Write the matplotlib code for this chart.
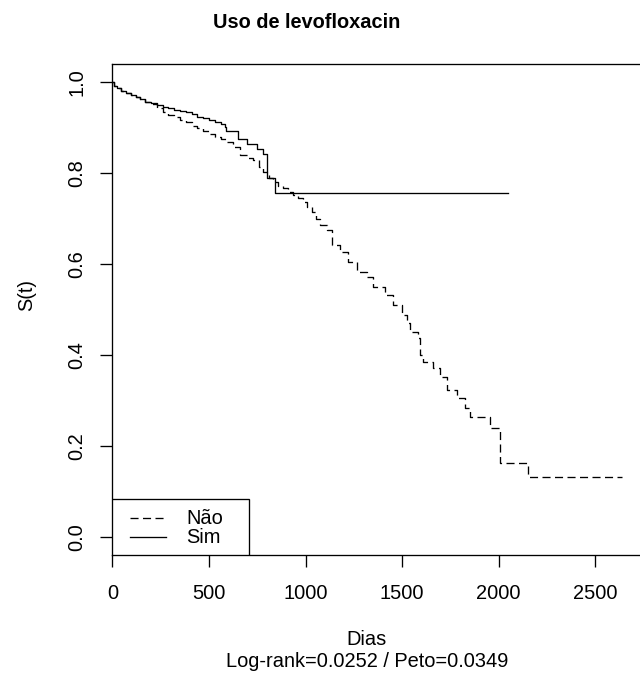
import matplotlib
matplotlib.use("Agg")
import matplotlib.pyplot as plt
from matplotlib.lines import Line2D
from matplotlib.patches import Rectangle

plt.rcParams["font.family"] = ["Liberation Sans", "DejaVu Sans"]
plt.rcParams["lines.scale_dashes"] = False

# Kaplan-Meier estimates, levofloxacin use (Nao / Sim)
nao_dias = [0, 10, 25, 45, 70, 95, 120, 145, 170, 200, 230, 260, 290, 320, 350,
            380, 410, 440, 470, 500, 530, 560, 594, 625, 661, 700, 729, 760,
            781, 810, 833, 860, 884, 910, 936, 960, 988, 1010, 1034, 1055,
            1075, 1111, 1137, 1179, 1220, 1267, 1318, 1349, 1412, 1453, 1500,
            1525, 1541, 1582, 1593, 1608, 1660, 1696, 1732, 1784, 1826, 1851,
            1955, 2007, 2152, 2640]
nao_surv = [1.0, 0.993, 0.987, 0.982, 0.977, 0.973, 0.968, 0.963, 0.958, 0.952,
            0.944, 0.936, 0.929, 0.923, 0.918, 0.912, 0.905, 0.899, 0.893,
            0.887, 0.881, 0.875, 0.868, 0.858, 0.840, 0.834, 0.829, 0.815,
            0.804, 0.790, 0.782, 0.773, 0.767, 0.760, 0.753, 0.746, 0.738,
            0.727, 0.714, 0.700, 0.687, 0.676, 0.643, 0.628, 0.606, 0.584,
            0.573, 0.551, 0.533, 0.511, 0.489, 0.471, 0.452, 0.438, 0.401,
            0.385, 0.372, 0.352, 0.324, 0.306, 0.284, 0.264, 0.240, 0.162,
            0.132, 0.132]

sim_dias = [0, 10, 25, 45, 70, 95, 120, 145, 170, 200, 230, 260, 290, 320, 350,
            380, 410, 440, 470, 500, 530, 560, 583, 590, 651, 697, 749, 780,
            800, 842, 2050]
sim_surv = [1.0, 0.993, 0.987, 0.982, 0.977, 0.973, 0.968, 0.963, 0.958, 0.954,
            0.950, 0.946, 0.943, 0.940, 0.937, 0.934, 0.930, 0.925, 0.921,
            0.917, 0.913, 0.908, 0.903, 0.893, 0.875, 0.864, 0.853, 0.842,
            0.790, 0.757, 0.757]

grupos = ["Não", "Sim"]
x_ticks = [0, 500, 1000, 1500, 2000, 2500]
y_ticks = [0.0, 0.2, 0.4, 0.6, 0.8, 1.0]

fs = 14.4
lw = 0.95
dash = (0, (5.8, 3.2))

fig = plt.figure(figsize=(6.4, 6.77), dpi=100)
ax = fig.add_axes([0.1755, 0.180, 0.829, 0.725])

ax.step(nao_dias, nao_surv, where="post", color="black", lw=lw, linestyle=dash)
ax.step(sim_dias, sim_surv, where="post", color="black", lw=lw)

ax.set_xlim(0, 2746)
ax.set_ylim(-0.04, 1.04)
ax.set_xticks(x_ticks)
ax.set_xticklabels([str(v) for v in x_ticks])
ax.set_yticks(y_ticks)
ax.set_yticklabels(["%.1f" % v for v in y_ticks])

for s in ax.spines.values():
    s.set_linewidth(lw)
ax.tick_params(length=8.6, width=lw, labelsize=fs, colors="black")
ax.tick_params(axis="x", pad=12)
ax.tick_params(axis="y", pad=10, labelrotation=90)
for lab in ax.get_yticklabels():
    lab.set_va("center")

# legend box in lower left corner
ax.add_patch(Rectangle((0, 0), 0.258, 0.114, transform=ax.transAxes,
                       facecolor="white", edgecolor="black", lw=lw, zorder=5))
styles = [dash, "-"]
rows = [0.0755, 0.0360]
for g, st, yy in zip(grupos, styles, rows):
    ax.add_line(Line2D([0.034, 0.102], [yy, yy], transform=ax.transAxes,
                       color="black", lw=lw, linestyle=st, zorder=6))
    ax.text(0.139, yy, g, transform=ax.transAxes, fontsize=fs,
            va="center", ha="left", zorder=6)

fig.text(0.479, 0.958, "Uso de levofloxacin", fontsize=fs, fontweight="bold",
         ha="center", va="baseline")
fig.text(0.042, 0.564, "S(t)", fontsize=fs, rotation=90, ha="center", va="center")
fig.text(0.573, 0.0473, "Dias", fontsize=fs, ha="center", va="baseline")
fig.text(0.573, 0.0152, "Log-rank=0.0252 / Peto=0.0349", fontsize=fs,
         ha="center", va="baseline")

fig.savefig("out.png", dpi=100)
